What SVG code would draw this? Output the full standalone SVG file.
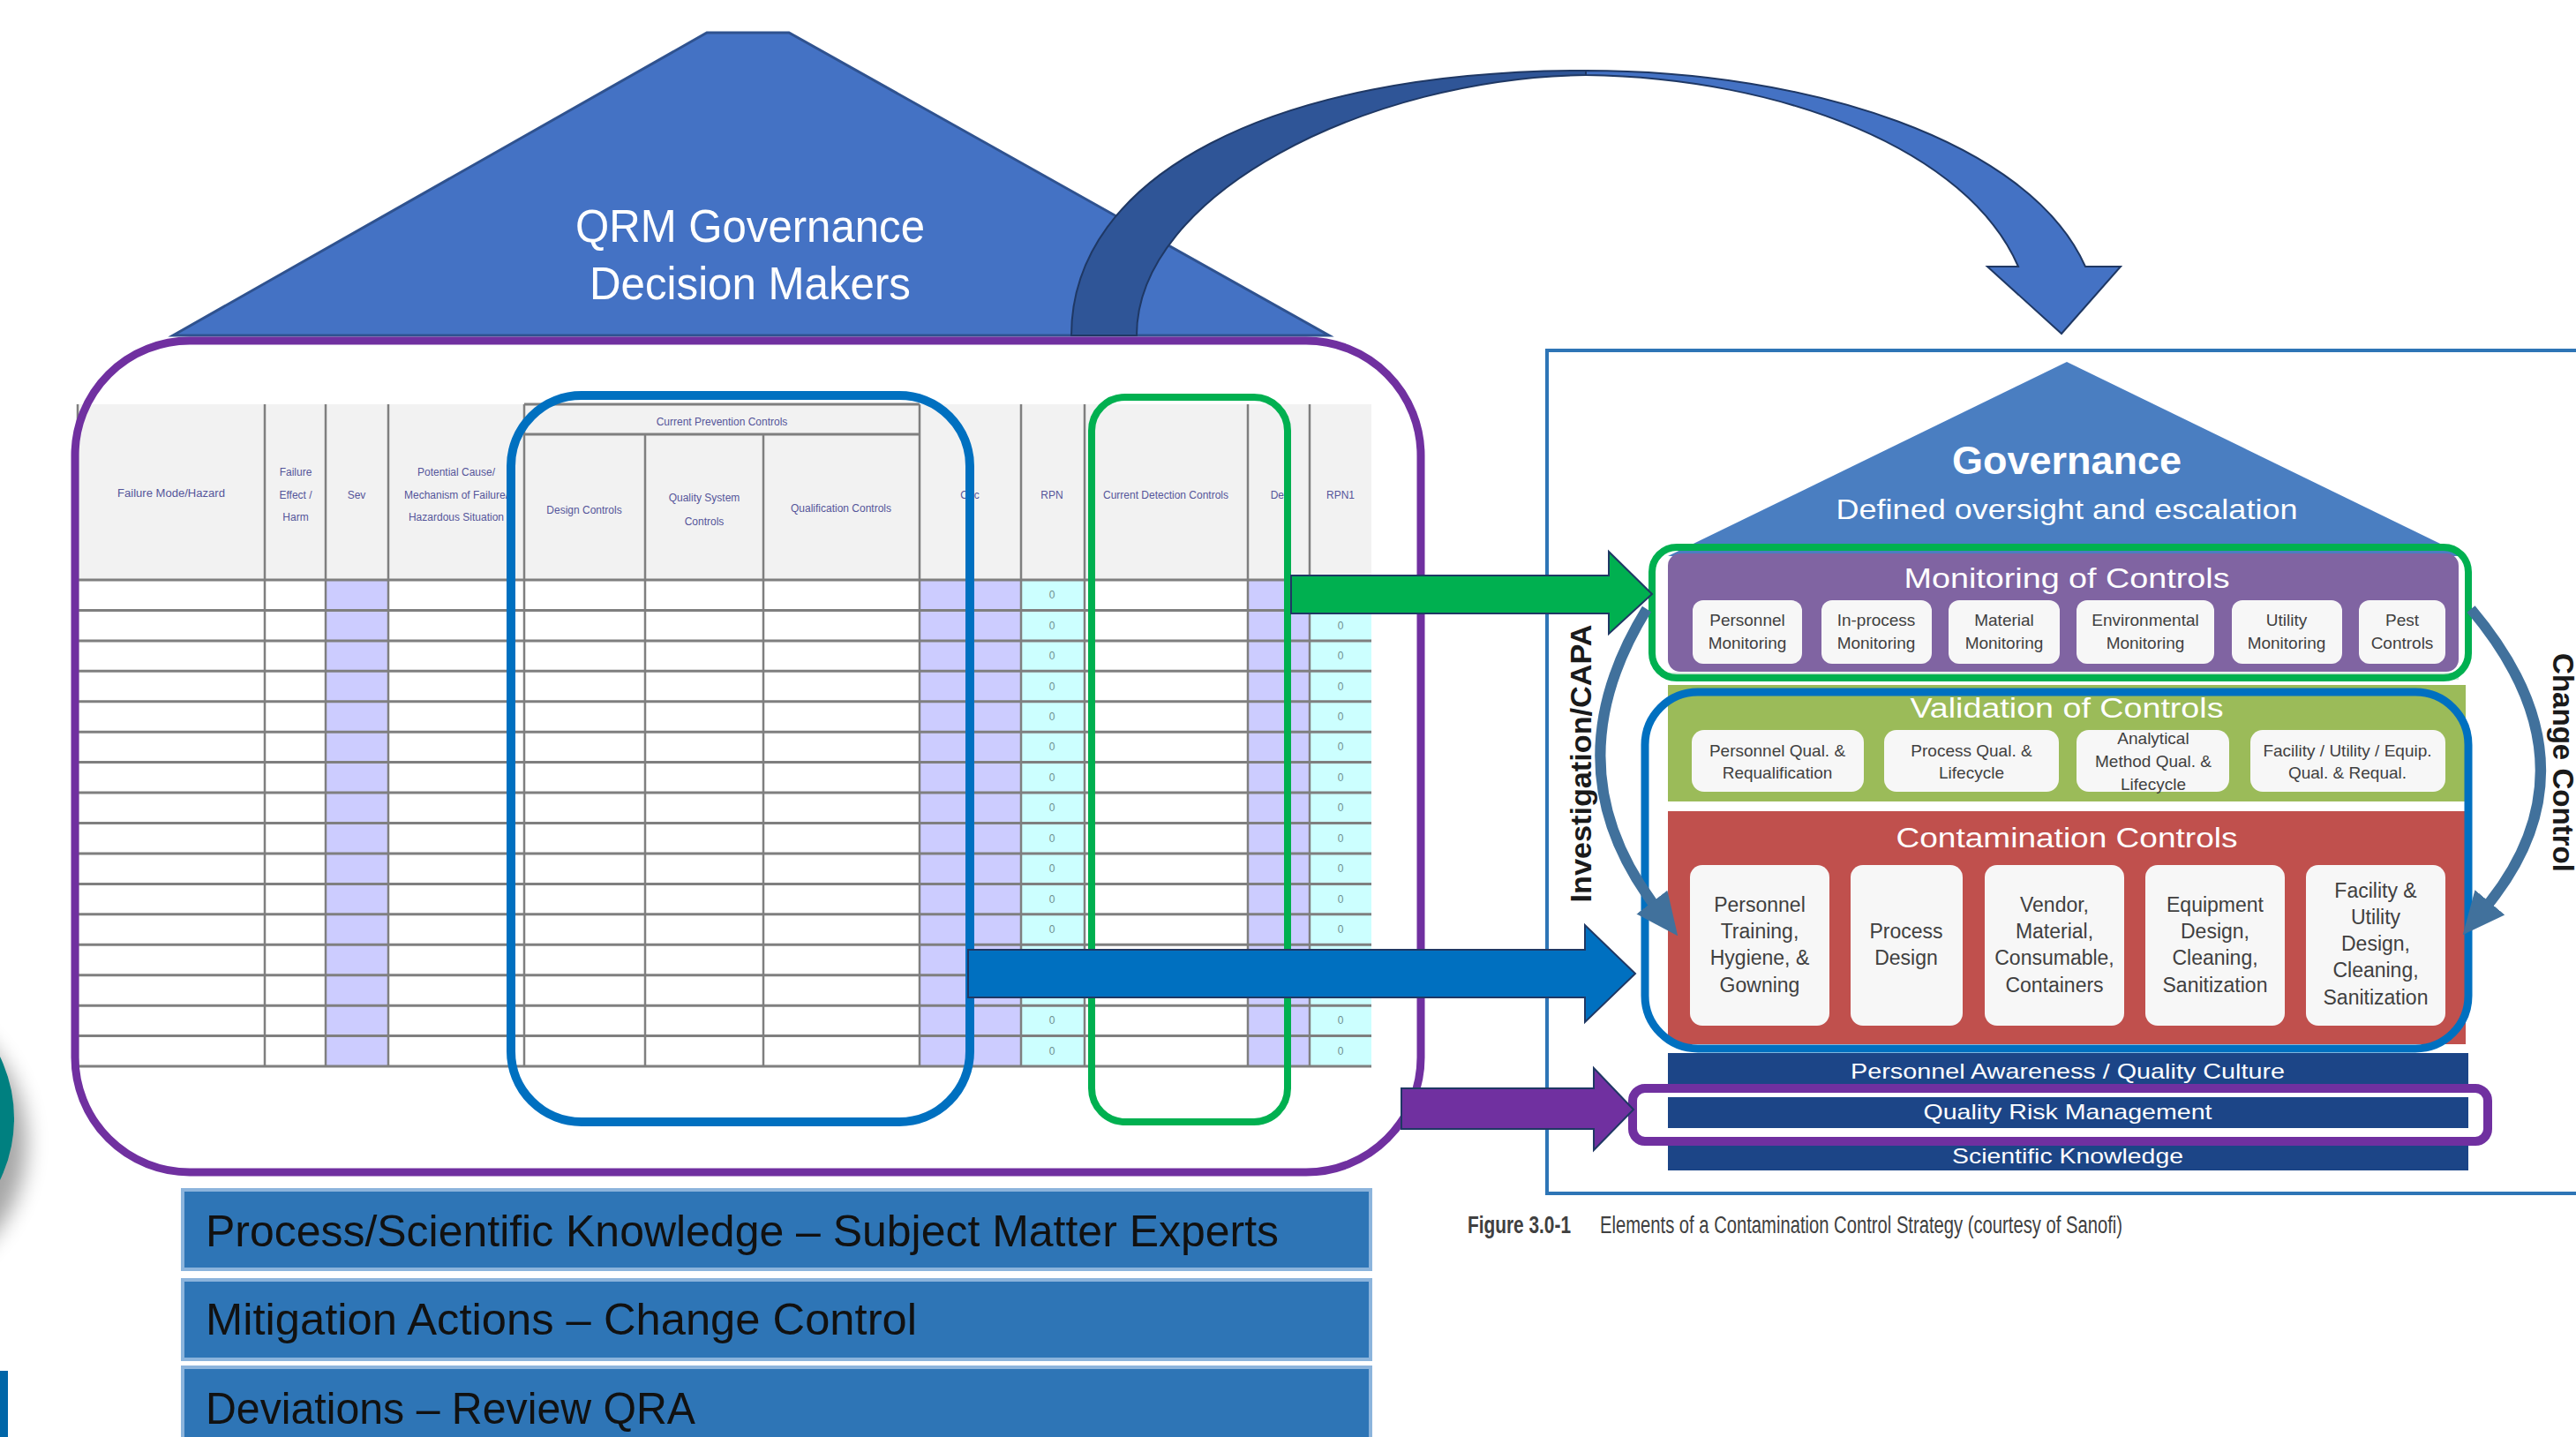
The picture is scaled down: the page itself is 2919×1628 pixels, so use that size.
<svg xmlns="http://www.w3.org/2000/svg" width="2919" height="1628" viewBox="0 0 2919 1628">
<defs>
<style>
text{font-family:"Liberation Sans",Arial,sans-serif}
.hd{font-size:12px;fill:#55559a;text-anchor:middle}
.z{font-size:12px;fill:#6f8f8f;text-anchor:middle}
.gl{stroke:#7f7f7f;stroke-width:3}
.vl{stroke:#7f7f7f;stroke-width:2.5}
.wt{fill:#ffffff;text-anchor:middle}
.bx{fill:#f7f7f7}
.bt{font-size:19px;fill:#404040;text-anchor:middle}
.ct{font-size:23px;fill:#404040;text-anchor:middle}
.band{fill:#2e75b6;stroke:#8cb4dc;stroke-width:4}
.bandt{font-size:50px;fill:#111111}
.rb{fill:#1c4587}
.rbt{font-size:24px;fill:#ffffff;text-anchor:middle}
.arc{fill:none;stroke:#41719c;stroke-width:12}
</style>
<filter id="blur" x="-50%" y="-50%" width="200%" height="200%"><feGaussianBlur stdDeviation="12"/></filter>
<marker id="ah" viewBox="0 0 50 50" refX="10" refY="25" markerWidth="50" markerHeight="50" markerUnits="userSpaceOnUse" orient="auto">
<path d="M0,3 L48,25 L0,47 Z" fill="#41719c"/>
</marker>
</defs>
<rect width="2919" height="1628" fill="#ffffff"/>

<!-- left edge decorations -->
<g id="edge">
<circle cx="-135" cy="1295" r="165" fill="#000" opacity="0.35" filter="url(#blur)"/>
<circle cx="-145" cy="1267" r="161" fill="#008080"/>
<rect x="0" y="1553" width="9" height="75" fill="#0066a8"/>
</g>

<!-- left house roof -->
<g id="qrm-roof">
<polygon points="196,380 801,37 894,37 1506,380" fill="#4472c4" stroke="#2f528f" stroke-width="3"/>
<text class="wt" x="850" y="274" font-size="52" textLength="396" lengthAdjust="spacingAndGlyphs">QRM Governance</text>
<text class="wt" x="850" y="339" font-size="52" textLength="364" lengthAdjust="spacingAndGlyphs">Decision Makers</text>
</g>

<!-- FMEA table -->
<g id="fmea-table">
<rect x="88" y="458" width="1466" height="200" fill="#f2f2f2"/>
<rect x="88" y="657" width="1466" height="551" fill="#ffffff"/>
<rect x="369" y="657" width="71" height="551" fill="#ccccff"/>
<rect x="1042" y="657" width="115" height="551" fill="#ccccff"/>
<rect x="1157" y="657" width="72" height="551" fill="#ccffff"/>
<rect x="1414" y="657" width="70" height="551" fill="#ccccff"/>
<rect x="1484" y="657" width="70" height="551" fill="#ccffff"/>
<g class="gl">
<line x1="594" y1="458" x2="1042" y2="458"/>
<line x1="594" y1="492" x2="1042" y2="492"/>
<line x1="88" y1="657" x2="1554" y2="657"/>
<line x1="88" y1="691.4" x2="1554" y2="691.4"/>
<line x1="88" y1="725.9" x2="1554" y2="725.9"/>
<line x1="88" y1="760.3" x2="1554" y2="760.3"/>
<line x1="88" y1="794.8" x2="1554" y2="794.8"/>
<line x1="88" y1="829.2" x2="1554" y2="829.2"/>
<line x1="88" y1="863.6" x2="1554" y2="863.6"/>
<line x1="88" y1="898.1" x2="1554" y2="898.1"/>
<line x1="88" y1="932.5" x2="1554" y2="932.5"/>
<line x1="88" y1="967" x2="1554" y2="967"/>
<line x1="88" y1="1001.4" x2="1554" y2="1001.4"/>
<line x1="88" y1="1035.8" x2="1554" y2="1035.8"/>
<line x1="88" y1="1070.3" x2="1554" y2="1070.3"/>
<line x1="88" y1="1104.7" x2="1554" y2="1104.7"/>
<line x1="88" y1="1139.2" x2="1554" y2="1139.2"/>
<line x1="88" y1="1173.6" x2="1554" y2="1173.6"/>
<line x1="88" y1="1208" x2="1554" y2="1208"/>
</g>
<g class="vl">
<line x1="88" y1="458" x2="88" y2="1208"/>
<line x1="300" y1="458" x2="300" y2="1208"/>
<line x1="369" y1="458" x2="369" y2="1208"/>
<line x1="440" y1="458" x2="440" y2="1208"/>
<line x1="594" y1="458" x2="594" y2="1208"/>
<line x1="731" y1="492" x2="731" y2="1208"/>
<line x1="865" y1="492" x2="865" y2="1208"/>
<line x1="1042" y1="458" x2="1042" y2="1208"/>
<line x1="1157" y1="458" x2="1157" y2="1208"/>
<line x1="1229" y1="458" x2="1229" y2="1208"/>
<line x1="1414" y1="458" x2="1414" y2="1208"/>
<line x1="1484" y1="458" x2="1484" y2="1208"/>
</g>
<text class="hd" x="194" y="563" textLength="122" lengthAdjust="spacingAndGlyphs">Failure Mode/Hazard</text>
<text class="hd" x="335" y="539">Failure</text>
<text class="hd" x="335" y="565">Effect /</text>
<text class="hd" x="335" y="590">Harm</text>
<text class="hd" x="404" y="565">Sev</text>
<text class="hd" x="517" y="539">Potential Cause/</text>
<text class="hd" x="517" y="565">Mechanism of Failure/</text>
<text class="hd" x="517" y="590">Hazardous Situation</text>
<text class="hd" x="818" y="482">Current Prevention Controls</text>
<text class="hd" x="662" y="582">Design Controls</text>
<text class="hd" x="798" y="568">Quality System</text>
<text class="hd" x="798" y="595">Controls</text>
<text class="hd" x="953" y="580">Qualification Controls</text>
<text class="hd" x="1099" y="565">Occ</text>
<text class="hd" x="1192" y="565">RPN</text>
<text class="hd" x="1321" y="565">Current Detection Controls</text>
<text class="hd" x="1449" y="565">Det</text>
<text class="hd" x="1519" y="565">RPN1</text>
<g>
<text class="z" x="1192" y="678">0</text><text class="z" x="1192" y="713">0</text><text class="z" x="1192" y="747">0</text><text class="z" x="1192" y="782">0</text><text class="z" x="1192" y="816">0</text><text class="z" x="1192" y="850">0</text><text class="z" x="1192" y="885">0</text><text class="z" x="1192" y="919">0</text><text class="z" x="1192" y="954">0</text><text class="z" x="1192" y="988">0</text><text class="z" x="1192" y="1023">0</text><text class="z" x="1192" y="1057">0</text><text class="z" x="1192" y="1160">0</text><text class="z" x="1192" y="1195">0</text>
<text class="z" x="1519" y="713">0</text><text class="z" x="1519" y="747">0</text><text class="z" x="1519" y="782">0</text><text class="z" x="1519" y="816">0</text><text class="z" x="1519" y="850">0</text><text class="z" x="1519" y="885">0</text><text class="z" x="1519" y="919">0</text><text class="z" x="1519" y="954">0</text><text class="z" x="1519" y="988">0</text><text class="z" x="1519" y="1023">0</text><text class="z" x="1519" y="1057">0</text><text class="z" x="1519" y="1160">0</text><text class="z" x="1519" y="1195">0</text>
</g>
</g>

<!-- left outlines -->
<g id="qrm-frame"><rect x="85" y="386" width="1525" height="942" rx="130" fill="none" stroke="#7030a0" stroke-width="9"/></g>
<g id="prevention-frame"><rect x="579" y="448" width="520" height="823" rx="80" fill="none" stroke="#0070c0" stroke-width="10"/></g>
<g id="detection-frame"><rect x="1237" y="450" width="222" height="821" rx="38" fill="none" stroke="#00b050" stroke-width="8"/></g>

<!-- bottom-left bands -->
<g id="band-knowledge"><rect class="band" x="207" y="1348" width="1346" height="90"/>
<text class="bandt" x="233" y="1412" textLength="1216" lengthAdjust="spacingAndGlyphs">Process/Scientific Knowledge – Subject Matter Experts</text></g>
<g id="band-mitigation"><rect class="band" x="207" y="1450" width="1346" height="90"/>
<text class="bandt" x="233" y="1512" textLength="806" lengthAdjust="spacingAndGlyphs">Mitigation Actions – Change Control</text></g>
<g id="band-deviations"><rect class="band" x="207" y="1549" width="1346" height="100"/>
<text class="bandt" x="233" y="1613" textLength="555" lengthAdjust="spacingAndGlyphs">Deviations – Review QRA</text></g>

<!-- right figure -->
<g id="ccs-figure">
<rect x="1753" y="397" width="1200" height="955" fill="#ffffff" stroke="#2e75b6" stroke-width="4"/>
<polygon points="2342,410 1890,630 2794,630" fill="#4a7ec1"/>
<text class="wt" x="2342" y="537" font-size="44" font-weight="bold" textLength="260" lengthAdjust="spacingAndGlyphs">Governance</text>
<text class="wt" x="2342" y="588" font-size="32" textLength="523" lengthAdjust="spacingAndGlyphs">Defined oversight and escalation</text>
</g>

<g id="monitoring">
<rect x="1890" y="627" width="896" height="134" rx="14" fill="#8064a2"/>
<rect x="1890" y="762" width="896" height="8" fill="#c8e6d6"/>
<text class="wt" x="2342" y="666" font-size="31" textLength="369" lengthAdjust="spacingAndGlyphs">Monitoring of Controls</text>
<rect class="bx" x="1918" y="680" width="124" height="72" rx="12"/>
<rect class="bx" x="2064" y="680" width="125" height="72" rx="12"/>
<rect class="bx" x="2208" y="680" width="126" height="72" rx="12"/>
<rect class="bx" x="2353" y="680" width="156" height="72" rx="12"/>
<rect class="bx" x="2529" y="680" width="125" height="72" rx="12"/>
<rect class="bx" x="2673" y="680" width="98" height="72" rx="12"/>
<text class="bt" x="1980" y="709">Personnel</text><text class="bt" x="1980" y="735">Monitoring</text>
<text class="bt" x="2126" y="709">In-process</text><text class="bt" x="2126" y="735">Monitoring</text>
<text class="bt" x="2271" y="709">Material</text><text class="bt" x="2271" y="735">Monitoring</text>
<text class="bt" x="2431" y="709">Environmental</text><text class="bt" x="2431" y="735">Monitoring</text>
<text class="bt" x="2591" y="709">Utility</text><text class="bt" x="2591" y="735">Monitoring</text>
<text class="bt" x="2722" y="709">Pest</text><text class="bt" x="2722" y="735">Controls</text>
</g>

<g id="validation">
<rect x="1890" y="776" width="904" height="132" fill="#9bbb59"/>
<text class="wt" x="2342" y="813" font-size="31" textLength="355" lengthAdjust="spacingAndGlyphs">Validation of Controls</text>
<rect class="bx" x="1917" y="827" width="195" height="70" rx="14"/>
<rect class="bx" x="2135" y="827" width="198" height="70" rx="14"/>
<rect class="bx" x="2353" y="827" width="173" height="70" rx="14"/>
<rect class="bx" x="2550" y="827" width="221" height="70" rx="14"/>
<text class="bt" x="2014" y="857">Personnel Qual. &amp;</text><text class="bt" x="2014" y="882">Requalification</text>
<text class="bt" x="2234" y="857">Process Qual. &amp;</text><text class="bt" x="2234" y="882">Lifecycle</text>
<text class="bt" x="2440" y="843">Analytical</text><text class="bt" x="2440" y="869">Method Qual. &amp;</text><text class="bt" x="2440" y="895">Lifecycle</text>
<text class="bt" x="2660" y="857">Facility / Utility / Equip.</text><text class="bt" x="2660" y="882">Qual. &amp; Requal.</text>
</g>

<g id="contamination">
<rect x="1890" y="919" width="904" height="264" fill="#c0504d"/>
<text class="wt" x="2342" y="960" font-size="31" textLength="387" lengthAdjust="spacingAndGlyphs">Contamination Controls</text>
<rect class="bx" x="1915" y="980" width="158" height="182" rx="14"/>
<rect class="bx" x="2097" y="980" width="127" height="182" rx="14"/>
<rect class="bx" x="2249" y="980" width="158" height="182" rx="14"/>
<rect class="bx" x="2431" y="980" width="158" height="182" rx="14"/>
<rect class="bx" x="2613" y="980" width="158" height="182" rx="14"/>
<text class="ct" x="1994" y="1033">Personnel</text><text class="ct" x="1994" y="1063">Training,</text><text class="ct" x="1994" y="1093">Hygiene, &amp;</text><text class="ct" x="1994" y="1124">Gowning</text>
<text class="ct" x="2160" y="1063">Process</text><text class="ct" x="2160" y="1093">Design</text>
<text class="ct" x="2328" y="1033">Vendor,</text><text class="ct" x="2328" y="1063">Material,</text><text class="ct" x="2328" y="1093">Consumable,</text><text class="ct" x="2328" y="1124">Containers</text>
<text class="ct" x="2510" y="1033">Equipment</text><text class="ct" x="2510" y="1063">Design,</text><text class="ct" x="2510" y="1093">Cleaning,</text><text class="ct" x="2510" y="1124">Sanitization</text>
<text class="ct" x="2692" y="1017">Facility &amp;</text><text class="ct" x="2692" y="1047">Utility</text><text class="ct" x="2692" y="1077">Design,</text><text class="ct" x="2692" y="1107">Cleaning,</text><text class="ct" x="2692" y="1138">Sanitization</text>
</g>

<g id="monitoring-frame"><rect x="1872" y="620" width="925" height="148" rx="28" fill="none" stroke="#00b050" stroke-width="8"/></g>
<g id="controls-frame"><rect x="1864" y="784" width="933" height="404" rx="60" fill="none" stroke="#0070c0" stroke-width="9"/></g>

<g id="foundation">
<rect class="rb" x="1890" y="1193" width="907" height="35"/>
<text class="rbt" x="2343" y="1222" textLength="492" lengthAdjust="spacingAndGlyphs">Personnel Awareness / Quality Culture</text>
<rect class="rb" x="1890" y="1297" width="907" height="29"/>
<text class="rbt" x="2343" y="1318" textLength="262" lengthAdjust="spacingAndGlyphs">Scientific Knowledge</text>
</g>
<g id="qrm-frame-right">
<rect x="1850" y="1233" width="969" height="60" rx="14" fill="#ffffff" stroke="#7030a0" stroke-width="10"/>
<rect class="rb" x="1890" y="1243" width="907" height="35"/>
<text class="rbt" x="2343" y="1268" textLength="327" lengthAdjust="spacingAndGlyphs">Quality Risk Management</text>
</g>

<g id="side-labels">
<text x="0" y="0" transform="translate(1803,865) rotate(-90)" font-size="34" font-weight="bold" fill="#1a1a1a" text-anchor="middle" textLength="315" lengthAdjust="spacingAndGlyphs">Investigation/CAPA</text>
<text x="0" y="0" transform="translate(2893,864) rotate(90)" font-size="34" font-weight="bold" fill="#1a1a1a" text-anchor="middle" textLength="248" lengthAdjust="spacingAndGlyphs">Change Control</text>
</g>

<g id="caption">
<text x="1663" y="1397" font-size="27" font-weight="bold" fill="#404040" textLength="117" lengthAdjust="spacingAndGlyphs">Figure 3.0-1</text>
<text x="1813" y="1397" font-size="27" fill="#404040" textLength="592" lengthAdjust="spacingAndGlyphs">Elements of a Contamination Control Strategy (courtesy of Sanofi)</text>
</g>

<!-- connectors -->
<g id="connectors">
<path d="M1214,380 C1214,200 1440,80 1797,80 L1797,85 C1550,88 1288,220 1288,380 Z" fill="#2f5597" stroke="#1f3864" stroke-width="2"/>
<path d="M1797,80 C2050,80 2300,160 2363,302 L2403,302 L2336,378 L2252,302 L2287,302 C2230,170 2020,88 1797,85 Z" fill="#4472c4" stroke="#1f3864" stroke-width="2"/>
<path class="arc" d="M1866,690 Q1755,870 1878,1030" marker-end="url(#ah)"/>
<path class="arc" d="M2800,690 Q2950,868 2815,1030" marker-end="url(#ah)"/>
<polygon points="1463,652 1823,652 1823,625 1872,673 1823,718 1823,695 1463,695" fill="#00b050" stroke="#1f3864" stroke-width="2"/>
<polygon points="1097,1076 1796,1076 1796,1048 1853,1103 1796,1158 1796,1130 1097,1130" fill="#0070c0" stroke="#1f3864" stroke-width="2"/>
<polygon points="1588,1233 1806,1233 1806,1210 1851,1257 1806,1303 1806,1279 1588,1279" fill="#7030a0" stroke="#1f3864" stroke-width="2"/>
</g>
</svg>
